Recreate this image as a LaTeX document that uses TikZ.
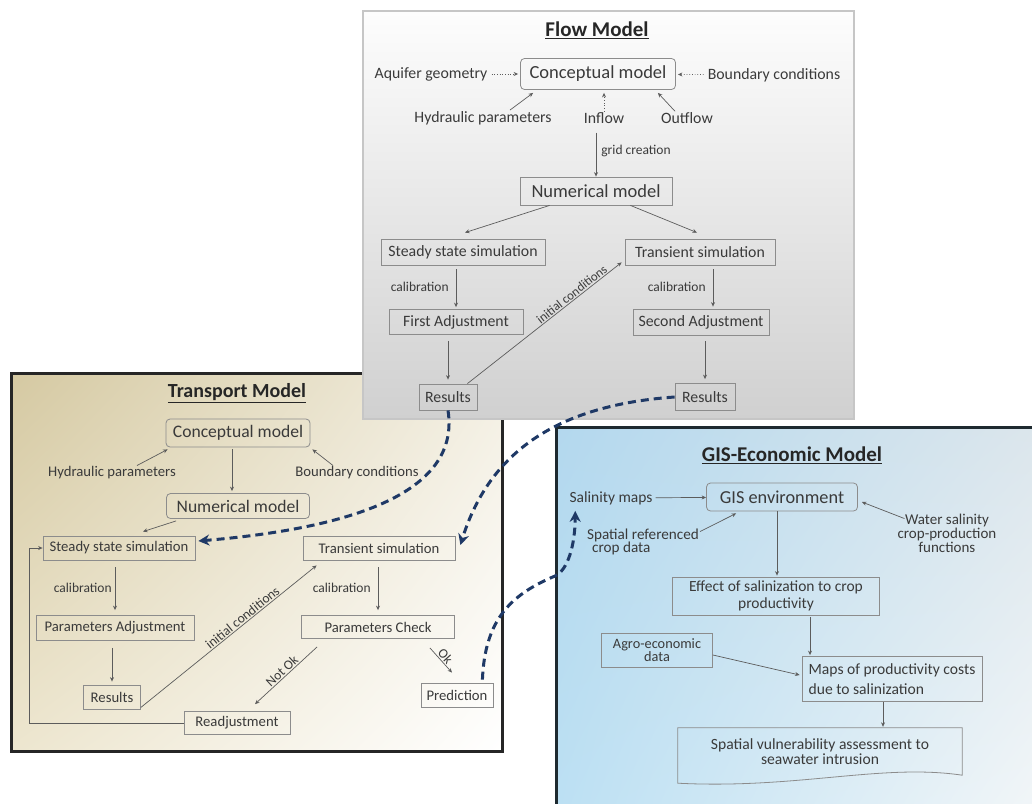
\documentclass[tikz,border=0pt]{standalone}
\usepackage{fontspec}
\setmainfont{Carlito}
\usetikzlibrary{arrows.meta,shadings}
\definecolor{txtc}{HTML}{3A3A3A}
\definecolor{titc}{HTML}{262626}
\definecolor{boxc}{HTML}{8C8C8C}
\definecolor{linec}{HTML}{5C5C5C}
\definecolor{navyc}{HTML}{1F3966}
\definecolor{flowtop}{HTML}{FDFDFD}
\definecolor{flowbot}{HTML}{D0D0D0}
\definecolor{flowbd}{HTML}{C6C6C6}
\definecolor{panelbd}{HTML}{262626}
\definecolor{tpul}{HTML}{D5C9A2}
\definecolor{tpll}{HTML}{EDE6CF}
\definecolor{tpur}{HTML}{F3EFE2}
\definecolor{tplr}{HTML}{FFFFFF}
\definecolor{gisul}{HTML}{B3D8EE}
\definecolor{gisll}{HTML}{BCE0F3}
\definecolor{gisur}{HTML}{DCE6EC}
\definecolor{gislr}{HTML}{F2F6F8}
\definecolor{gisbd}{HTML}{1E2A30}
\begin{document}
\begin{tikzpicture}[x=1pt,y=-1pt,
  plainbox/.style={draw=boxc, line width=0.8pt, text=txtc, inner sep=2pt, align=center},
  roundbox/.style={plainbox, rounded corners=4pt},
  lab/.style={text=txtc, inner sep=1pt, align=center},
  edgelab/.style={text=txtc, inner sep=1pt, font=\fontsize{13.5}{15}\selectfont},
  paneltitle/.style={text=titc, inner sep=1pt, font=\bfseries\fontsize{21}{24}\selectfont},
  arr/.style={draw=linec, line width=0.7pt, -{Stealth[length=4.5pt,width=4pt]}},
  dotarr/.style={arr, dotted},
  bluearr/.style={draw=navyc, line width=3pt, dash pattern=on 8pt off 5pt, -{Stealth[length=11pt,width=11pt]}},
  szbig/.style={font=\fontsize{18.5}{21}\selectfont},
  szflow/.style={font=\fontsize{15.8}{18}\selectfont},
  sztr/.style={font=\fontsize{14.7}{17}\selectfont},
  sztrbig/.style={font=\fontsize{17.6}{20}\selectfont},
  szgis/.style={font=\fontsize{15.5}{17}\selectfont},
  szgisbig/.style={font=\fontsize{18.3}{21}\selectfont}
]
\useasboundingbox (0,0) rectangle (1032,803);
\fill[white] (0,0) rectangle (1032,803);

% ---------- panels ----------
\shade[upper left=tpul, upper right=tpur, lower left=tpll, lower right=tplr] (11,373) rectangle (502,751);
\draw[draw=panelbd, line width=3pt] (11,373) rectangle (502,751);

\shade[top color=flowtop, bottom color=flowbot] (363,11) rectangle (854,419);
\draw[draw=flowbd, line width=1.2pt] (363,11) rectangle (854,419);

\begin{scope}
\clip (0,0) rectangle (1032,803);
\shade[upper left=gisul, upper right=gisur, lower left=gisll, lower right=gislr] (556,427) rectangle (1040,810);
\draw[draw=gisbd, line width=3pt] (556,427) rectangle (1040,810);
\end{scope}

% ---------- Flow model ----------
\node[paneltitle] (ftitle) at (597,30) {\underline{Flow Model}};
\node[roundbox, szbig, minimum width=155pt, minimum height=31pt] (fconc) at (598,74) {Conceptual model};
\node[lab, szflow] (faq) at (431,74) {Aquifer geometry};
\node[lab, szflow] (fbc) at (774,75) {Boundary conditions};
\node[lab, szflow] (fhyd) at (483,118) {Hydraulic parameters};
\node[lab, szflow] (finf) at (604,118) {Inflow};
\node[lab, szflow] (fout) at (687,118) {Outflow};
\node[plainbox, szbig, minimum width=152pt, minimum height=28pt] (fnum) at (596,191) {Numerical model};
\node[plainbox, szflow, minimum width=164pt, minimum height=26pt] (fsteady) at (463,252) {Steady state simulation};
\node[plainbox, szflow, minimum width=150pt, minimum height=26pt] (ftrans) at (700,252) {Transient simulation};
\node[plainbox, szflow, minimum width=134pt, minimum height=25pt] (ffirst) at (456,322) {First Adjustment};
\node[plainbox, szflow, minimum width=136pt, minimum height=26pt] (fsecond) at (701,322) {Second Adjustment};
\node[plainbox, szflow, minimum width=58pt, minimum height=26pt] (fres1) at (448,397) {Results};
\node[plainbox, szflow, minimum width=60pt, minimum height=27pt] (fres2) at (705,397) {Results};

\draw[dotarr, shorten <=3pt, shorten >=2pt] (faq) -- (fconc);
\draw[dotarr, shorten <=3pt, shorten >=2pt] (fbc) -- (fconc);
\draw[arr] ([xshift=27pt]fhyd.north) -- ([xshift=13pt,yshift=-3pt]fconc.south west);
\draw[dotarr] (finf.north) -- ([yshift=-3pt]fconc.south -| finf.north);
\draw[arr] ([xshift=-12pt]fout.north) -- ([xshift=-18pt,yshift=-3pt]fconc.south east);
\draw[arr, shorten <=8pt] (fnum.north |- finf.south) -- (fnum.north)
  node[edgelab, midway, right=4pt] {grid creation};
\draw[arr] ([xshift=30pt]fnum.south west) -- ([xshift=2pt,yshift=6pt]fsteady.north);
\draw[arr] ([xshift=-42pt]fnum.south east) -- ([xshift=-3pt,yshift=6pt]ftrans.north);
\draw[arr, shorten <=4pt, shorten >=2pt] (ffirst.north |- fsteady.south) -- (ffirst.north)
  node[edgelab, midway, left=6pt] {calibration};
\draw[arr, shorten <=6pt, shorten >=4pt] (fres1.north |- ffirst.south) -- (fres1.north);
\draw[arr] ([xshift=-10pt]fres1.north east) -- ([xshift=-3pt,yshift=3pt]ftrans.south west)
  node[edgelab, pos=0.7, sloped, above, font=\fontsize{12.8}{14}\selectfont] {initial conditions};
\coordinate (fc2) at ([xshift=12pt]fsecond.north);
\draw[arr, shorten <=4pt, shorten >=2pt] (fc2 |- ftrans.south) -- (fc2)
  node[edgelab, midway, left=6pt] {calibration};
\draw[arr, shorten <=6pt, shorten >=4pt] (fres2.north |- fsecond.south) -- (fres2.north);

% ---------- Transport model ----------
\node[paneltitle, font=\bfseries\fontsize{20}{23}\selectfont] (ttitle) at (237,393) {\underline{Transport Model}};
\node[roundbox, sztrbig, minimum width=144pt, minimum height=28pt] (tconc) at (238,433) {Conceptual model};
\node[lab, sztr] (thyd) at (112,473) {Hydraulic parameters};
\node[lab, sztr] (tbc) at (357,473) {Boundary conditions};
\node[roundbox, sztrbig, minimum width=143pt, minimum height=25pt] (tnum) at (238,506) {Numerical model};
\node[plainbox, sztr, minimum width=152pt, minimum height=24pt] (tsteady) at (119,548) {Steady state simulation};
\node[plainbox, sztr, minimum width=152pt, minimum height=24pt] (ttrans) at (379,548) {Transient simulation};
\node[plainbox, sztr, minimum width=158pt, minimum height=25pt] (tpadj) at (115,628) {Parameters Adjustment};
\node[plainbox, sztr, minimum width=153pt, minimum height=23pt] (tpchk) at (378,627) {Parameters Check};
\node[plainbox, sztr, minimum width=57pt, minimum height=24pt] (tres) at (112,697) {Results};
\node[plainbox, sztr, minimum width=106pt, minimum height=23pt] (treadj) at (237,723) {Readjustment};
\node[plainbox, sztr, minimum width=72pt, minimum height=24pt] (tpred) at (457,695) {Prediction};

\draw[arr] ([xshift=25pt]thyd.north) -- ([xshift=2pt,yshift=-2pt]tconc.south west);
\draw[arr] ([xshift=-24pt]tbc.north) -- ([xshift=2pt,yshift=-2pt]tconc.south east);
\coordinate (tc1) at ([xshift=-6pt]tconc.south);
\draw[arr, shorten <=2pt, shorten >=2pt] (tc1) -- (tc1 |- tnum.north);
\draw[arr] ([xshift=10pt,yshift=-2pt]tnum.south west) -- ([xshift=24pt,yshift=4pt]tsteady.north);
\draw[arr, shorten <=7pt, shorten >=5pt] (tpadj.north |- tsteady.south) -- (tpadj.north)
  node[edgelab, midway, left=2pt] {calibration};
\draw[arr, shorten <=7pt, shorten >=3pt] (tres.north |- tpadj.south) -- (tres.north);
\draw[arr] ([yshift=2pt]tres.south east) -- ([xshift=14pt,yshift=-5pt]ttrans.south west)
  node[edgelab, pos=0.6, sloped, above] {initial conditions};
\draw[arr, shorten <=7pt, shorten >=5pt] (tpchk.north |- ttrans.south) -- (tpchk.north)
  node[edgelab, midway, left=6pt] {calibration};
\draw[arr] ([xshift=16pt,yshift=-8pt]tpchk.south west) -- ([xshift=18pt,yshift=7pt]treadj.north)
  node[edgelab, midway, sloped, above] {Not Ok};
\draw[arr] ([xshift=-25pt,yshift=-9pt]tpchk.south east) -- ([xshift=-5pt,yshift=10pt]tpred.north)
  node[edgelab, midway, sloped, above] {Ok};
\draw[arr] (treadj.west) -| ([xshift=-13pt]tsteady.west) -- (tsteady.west);

% ---------- GIS-Economic model ----------
\node[paneltitle] (gtitle) at (792,455) {\underline{GIS-Economic Model}};
\node[lab, szgis] (gsal) at (611,498) {Salinity maps};
\node[roundbox, szgisbig, minimum width=151pt, minimum height=28pt] (genv) at (782,497) {GIS environment};
\node[lab, align=left, font=\fontsize{15.2}{13.5}\selectfont] (gspat) at (643,542) {Spatial referenced\\\hspace*{5pt}crop data};
\node[lab, font=\fontsize{15}{14}\selectfont] (gwat) at (947,533) {Water salinity\\crop-production\\functions};
\node[plainbox, font=\fontsize{15.5}{17}\selectfont, minimum width=207pt, minimum height=38pt] (geff) at (776,596) {Effect of salinization to crop\\productivity};
\node[plainbox, font=\fontsize{14.3}{13}\selectfont, minimum width=111pt, minimum height=34pt] (gagro) at (657,650) {Agro-economic\\data};
\node[plainbox, align=left, font=\fontsize{15.6}{20}\selectfont, minimum width=180pt, minimum height=45pt] (gmaps) at (892,679) {Maps of productivity costs\\due to salinization};
\node[lab, font=\fontsize{15.6}{15}\selectfont, minimum width=284pt, minimum height=47pt] (gspv) at (820,751.5) {Spatial vulnerability assessment to\\seawater intrusion};
\draw[draw=boxc, line width=0.8pt] (gspv.north west) -- (gspv.north east) -- (gspv.south east)
  .. controls ([xshift=-80pt,yshift=12pt]gspv.south east) and ([xshift=120pt,yshift=-14pt]gspv.south west)
  .. ([yshift=-8pt]gspv.south west) -- cycle;

\draw[arr, shorten <=2pt] (gsal) -- (genv);
\draw[arr] ([yshift=-4pt]gspat.north east) -- ([xshift=30pt,yshift=-2pt]genv.south west);
\draw[arr] ([xshift=8pt,yshift=-6pt]gwat.north west) -- ([xshift=4pt,yshift=-5pt]genv.east);
\coordinate (gc1) at ([xshift=-5pt]genv.south);
\draw[arr, shorten >=1pt] (gc1) -- (gc1 |- geff.north);
\coordinate (gc2) at ([xshift=34pt]geff.south);
\draw[arr, shorten <=2pt, shorten >=1pt] (gc2) -- (gc2 |- gmaps.north);
\draw[arr] ([yshift=-5pt]gagro.east) -- ([xshift=-2pt,yshift=4pt]gmaps.west);
\coordinate (gc3) at ([xshift=-9pt]gmaps.south);
\draw[arr, shorten >=1pt] (gc3) -- (gc3 |- gspv.north);

% ---------- linking dashed arrows ----------
\draw[bluearr] (fres1.south) .. controls (462,500) and (330,530) .. ([xshift=3pt,yshift=7pt]tsteady.east);
\draw[bluearr] (fres2.west) .. controls (560,405) and (490,450) .. ([xshift=5pt,yshift=3pt]ttrans.east);
\coordinate (bend3) at (555,576);
\draw[bluearr] ([xshift=-11pt,yshift=3pt]tpred.north east) .. controls (485,620) and (510,595) .. (bend3)
  .. controls (568,570) and (575,545) .. ([xshift=7pt,yshift=-5pt]gsal.south west);
\end{tikzpicture}
\end{document}
